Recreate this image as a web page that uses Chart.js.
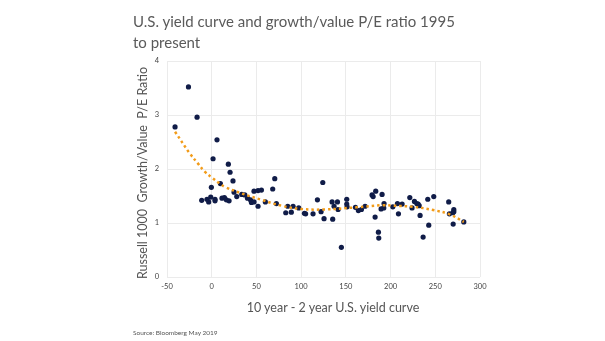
<!DOCTYPE html>
<html>
<head>
<meta charset="utf-8">
<script src="https://cdn.jsdelivr.net/npm/chart.js@4.4.0/dist/chart.umd.min.js"></script>
<style>
  body { margin: 0; background: #fff; }
  #wrap { position: relative; width: 605px; height: 341px; font-family: Lato, "Open Sans", sans-serif; }
  #chart { position: absolute; left: 0; top: 0; }
  .title { position: absolute; left: 133px; top: 11px; font-size: 15px; line-height: 21px; color: #5a5a5a; }
  .source { position: absolute; left: 133px; top: 329px; font-size: 6.5px; line-height: 8px; color: #555; }
  .xtitle { position: absolute; left: 213px; width: 240px; top: 300px; text-align: center; font-size: 12.5px; line-height: 16px; color: #555; }
  .ytitle { position: absolute; left: 23px; width: 240px; top: 165px; text-align: center; font-size: 12.5px; line-height: 16px; color: #555;
            transform: rotate(-90deg); transform-origin: 120px 8px; white-space: pre; }
</style>
</head>
<body>
<div id="wrap">
  <canvas id="chart" width="605" height="341"></canvas>
  <div class="title">U.S. yield curve and growth/value P/E ratio 1995<br>to present</div>
  <div class="xtitle">10 year - 2 year U.S. yield curve</div>
  <div class="ytitle">Russell 1000  Growth/Value  P/E Ratio</div>
  <div class="source">Source: Bloomberg May 2019</div>
</div>
<script>
// 10y - 2y spread (bp) against Russell 1000 growth/value P/E ratio
const spread = [-41, -26, -16.4, 5.9, 1.5, 18.6, 20.5, 23.8, 9.7, -0.4,
  70.5, 68.2, 47.3, 51.8, 55.6, 25, 28, 33.6, 37, 40,
  43.3, 44.4, 47.3, 60, 72.3, 51.8, -11.2, -5.3, -3.4, -1.1,
  3.7, 3.7, 11.5, 14.2, 16.4, 19.4, 85, 91, 97.3, 82.8,
  89, 103.7, 124.2, 118.2, 105, 113.3, 122.3, 125.6, 135.3, 134.6,
  140.6, 136.8, 141.3, 145, 151, 151, 151.4, 160.7, 164, 167.4,
  171.5, 179.3, 180.5, 183.4, 182.7, 186.4, 186.8, 189.4, 192.4, 192.7,
  190.5, 202.5, 207.7, 212.9, 208.8, 221.5, 224, 226.7, 229.3, 230.8,
  232, 233, 236.4, 242.7, 241.6, 248.3, 265, 265.8, 269.6, 270.7,
  270.7, 270, 281.9];
const peRatio = [2.78, 3.52, 2.96, 2.54, 2.19, 2.09, 1.94, 1.78, 1.73, 1.66,
  1.82, 1.63, 1.59, 1.60, 1.61, 1.57, 1.49, 1.53, 1.52, 1.46,
  1.43, 1.38, 1.39, 1.39, 1.36, 1.31, 1.42, 1.44, 1.39, 1.48,
  1.44, 1.41, 1.46, 1.47, 1.43, 1.41, 1.31, 1.31, 1.28, 1.19,
  1.20, 1.18, 1.75, 1.43, 1.17, 1.17, 1.21, 1.08, 1.07, 1.39,
  1.39, 1.31, 1.25, 0.55, 1.44, 1.35, 1.30, 1.29, 1.23, 1.25,
  1.31, 1.52, 1.49, 1.59, 1.11, 0.83, 0.72, 1.26, 1.28, 1.36,
  1.53, 1.30, 1.36, 1.35, 1.17, 1.47, 1.28, 1.40, 1.36, 1.35,
  1.32, 1.14, 0.74, 0.96, 1.44, 1.49, 1.39, 1.17, 1.19, 1.25,
  1.21, 0.98, 1.02];

// trend line
const trendX = [-41, -24.6, -15.3, -7.8, 1, 9, 14.5, 33, 55.6, 78, 100, 124.5, 162, 191.6, 203, 225, 247.6, 266, 282];
const trendY = [2.69, 2.29, 2.10, 1.95, 1.83, 1.73, 1.67, 1.55, 1.43, 1.32, 1.26, 1.25, 1.29, 1.33, 1.32, 1.30, 1.24, 1.16, 1.02];

const xTicks = [-50, 0, 50, 100, 150, 200, 250, 300];
const yTicks = [0, 1, 2, 3, 4];

const points = spread.map((x, i) => ({ x: x, y: peRatio[i] }));
const trend = trendX.map((x, i) => ({ x: x, y: trendY[i] }));

const tickFont = { family: 'Lato', size: 7.5 };

new Chart(document.getElementById('chart'), {
  type: 'scatter',
  data: {
    datasets: [{
      type: 'line',
      data: trend,
      borderColor: '#f29c1a',
      borderWidth: 2.5,
      borderDash: [2.5, 3],
      pointRadius: 0,
      tension: 0.4,
      fill: false
    }, {
      data: points,
      backgroundColor: '#101c48',
      borderColor: '#101c48',
      pointRadius: 2.6,
      borderWidth: 0
    }]
  },
  options: {
    responsive: false,
    animation: false,
    layout: { padding: { left: 135, right: 125, top: 61, bottom: 25 } },
    plugins: { legend: { display: false }, tooltip: { enabled: false } },
    scales: {
      x: {
        type: 'linear',
        min: -50,
        max: 300,
        afterBuildTicks: s => { s.ticks = xTicks.map(v => ({ value: v })); },
        afterFit: s => { s.height = 39; },
        grid: { color: '#ebebeb', drawTicks: false },
        border: { display: false },
        ticks: { font: tickFont, color: '#444', padding: 5, maxRotation: 0 }
      },
      y: {
        min: 0,
        max: 4,
        afterBuildTicks: s => { s.ticks = yTicks.map(v => ({ value: v })); },
        afterFit: s => { s.width = 32; },
        grid: { color: '#ebebeb', drawTicks: false },
        border: { display: false },
        ticks: { font: tickFont, color: '#444', padding: 8 }
      }
    }
  }
});
</script>
</body>
</html>
